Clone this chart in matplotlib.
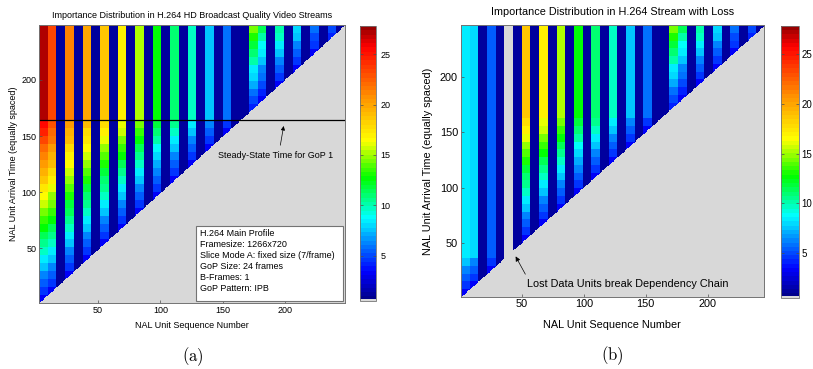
import numpy as np
import matplotlib
matplotlib.use('Agg')
import matplotlib.pyplot as plt
from matplotlib.colors import ListedColormap, LinearSegmentedColormap
from matplotlib.patches import Rectangle

plt.rcParams['font.family'] = ['Liberation Sans', 'DejaVu Sans']
plt.rcParams['mathtext.fontset'] = 'cm'

# 35 frames, 7 slices (NAL units) each -> 245 units; values change once per frame (row block)
slices = 7
frames = 35

# panel (a), GoP 1: value per row block from the diagonal up to the steady-state line
ramp_a = {
    1: [3.5, 4.5, 5.5, 6.5, 7.5, 8.5, 9.5, 10.5, 11.5, 12.5, 13.5, 14.5, 15.5, 16.5, 17.5, 18.5, 19.5, 20.5, 21, 22, 23.5, 24.5, 25.5],
    2: [3.5, 4.5, 5.5, 6.5, 7.5, 8.5, 9.5, 10.5, 11.5, 12.5, 13.5, 14.5, 15, 16, 17, 18, 19, 19.5, 20.5, 21.5, 22, 23],
    4: [3.5, 4.5, 5.5, 6.5, 7.5, 8.5, 9.5, 10.5, 11.5, 12, 13, 14, 15, 15.5, 16.5, 17, 18, 19, 19.5, 20.5],
    6: [3.5, 4.5, 5.5, 6.5, 7.5, 8.5, 9.5, 10.5, 11, 12, 13, 14, 15, 15.5, 16.5, 17.5, 18, 19],
    8: [3.5, 4.5, 5.5, 6.5, 7.5, 8.5, 9.5, 10.5, 11, 12, 13, 14, 15, 16, 17, 18],
    10: [3.5, 4.5, 5.5, 6.5, 7.5, 8.5, 9.5, 10.5, 11.5, 12.5, 13.5, 14.5, 15.5, 16],
    12: [3.5, 4.5, 5.5, 6.5, 7.5, 8.5, 9.5, 10.5, 11.5, 12.5, 13.5, 14.5],
    14: [3.5, 4.5, 5.5, 6.5, 7, 8, 9, 10, 11, 12],
    16: [3.5, 4.5, 5.5, 6.5, 7.5, 8.5, 9.5, 10.5],
    18: [3.5, 4.5, 5.5, 6.5, 7.5, 8.5],
    20: [3.5, 4.5, 5.5, 6.5],
    22: [3.5, 4.5],
}
steady_a = {1: 27, 2: 23.5, 4: 21, 6: 19.8, 8: 18.5, 10: 16.8, 12: 15.1,
            14: 12.7, 16: 11.1, 18: 9.5, 20: 7.6, 22: 5.7}

# GoP 2 (same in both panels): diagonal up to the top row
ramp_gop2 = {
    25: [4, 5, 6, 7, 8, 8.5, 10, 11, 12, 13, 14.4],
    26: [3.5, 4, 5, 6, 6.5, 7.5, 8.5, 9, 10.3, 11.3],
    28: [3.5, 4.5, 5.5, 6.5, 7.5, 8.5, 9.5, 10.3],
    30: [3.5, 4.5, 5.5, 6.5, 7.5, 8.2],
    32: [3.5, 4.5, 5, 5.7],
    34: [4, 5.2],
}

# panel (b): frames before the lost P frame
ramp_b = {
    1: [3.5, 4.5, 5.5, 6.5, 7.5],
    2: [3.5, 4.5, 5.5, 6.5],
    4: [3.5, 4.5],
}
steady_b = {1: 8.4, 2: 7.9, 4: 5.4}
lost_b = [6]

steady_time = 164   # GoP 1 steady state (arrival time)
b_value = 1.0       # B frames / last P frame: nothing depends on them


def block_matrix(ramps, steadies, lost=()):
    B = np.zeros((frames, frames))
    for k in range(1, frames + 1):
        c = k - 1
        if k in lost:
            continue
        vals = ramps.get(k, [])
        fill = steadies.get(k, vals[-1] if (k in ramps and k > 24) else b_value)
        for j in range(c, frames):
            i = j - c
            B[j, c] = vals[i] if i < len(vals) else fill
    U = np.repeat(np.repeat(B, slices, 0), slices, 1)
    n = frames * slices
    U[np.triu(np.ones((n, n)), 1) > 0] = 0   # not yet arrived -> gray
    return U


rampsA = dict(ramp_a)
rampsA.update(ramp_gop2)
matA = block_matrix(rampsA, steady_a)

rampsB = {k: v for k, v in ramp_a.items() if k > 6}
rampsB.update(ramp_b)
rampsB.update(ramp_gop2)
steadyB = {k: v for k, v in steady_a.items() if k > 6}
steadyB.update(steady_b)
matB = block_matrix(rampsB, steadyB, lost_b)

# jet-like map as rendered in the figure, 64 visible levels, light gray at the very bottom
jetlike = LinearSegmentedColormap.from_list('jetlike', [
    (0.0, (0, 0, 0.55)), (0.1, (0, 0, 1)), (0.3, (0, 1, 1)), (0.445, (0, 1, 0)),
    (0.585, (1, 1, 0)), (0.77, (1, 0.5, 0)), (0.93, (1, 0, 0)), (1.0, (0.6, 0, 0))])
lev = jetlike(np.linspace(0, 1, 64))
cols = np.repeat(lev, 4, axis=0)
cols[:2] = [0.85, 0.85, 0.85, 1]
cmap = ListedColormap(cols)
vmin, vmax = 0.54, 27.8

W, H = 813, 369
fig = plt.figure(figsize=(W / 100, H / 100), dpi=100)


def px(x0, y0, x1, y1):
    return [x0 / W, 1 - y1 / H, (x1 - x0) / W, (y1 - y0) / H]


def style(ax, fs):
    for s in ax.spines.values():
        s.set_color('0.45')
        s.set_linewidth(0.7)
    ax.tick_params(direction='in', length=2.5, width=0.5, color='0.3', labelsize=fs, pad=2)


# ---- panel (a)
fsa = 6.5
axa = fig.add_axes(px(39.3, 25.3, 345, 303.3))
im = axa.imshow(matA, origin='lower', extent=[3, 248, 1, 248.7], aspect='auto',
                cmap=cmap, vmin=vmin, vmax=vmax, interpolation='nearest')
axa.set_xlim(3, 248)
axa.set_ylim(1, 248.7)
axa.set_xticks([50, 100, 150, 200])
axa.set_yticks([50, 100, 150, 200])
style(axa, fsa)
axa.axhline(steady_time, color='k', lw=0.9)
axa.annotate('', xy=(199.2, 161.4), xytext=(195.8, 139.4),
             arrowprops=dict(arrowstyle='-|>', color='k', lw=0.5, mutation_scale=6))
axa.text(192.4, 132.5, 'Steady-State Time for GoP 1', ha='center', va='center', fontsize=fsa)
fig.text(192.2 / W, 1 - 15 / H, 'Importance Distribution in H.264 HD Broadcast Quality Video Streams',
         ha='center', va='center', fontsize=fsa)
fig.text(192.2 / W, 1 - 325 / H, 'NAL Unit Sequence Number', ha='center', va='center', fontsize=fsa)
fig.text(13.3 / W, 1 - 164 / H, 'NAL Unit Arrival Time (equally spaced)', ha='center', va='center',
         rotation=90, fontsize=fsa)

fig.patches.append(Rectangle((195.7 / W, 1 - 300.7 / H), 147 / W, 75 / H, transform=fig.transFigure,
                             facecolor='white', edgecolor='0.45', lw=0.8, zorder=5))
box_lines = ['H.264 Main Profile', 'Framesize: 1266x720', 'Slice Mode A: fixed size (7/frame)',
             'GoP Size: 24 frames', 'B-Frames: 1', 'GoP Pattern: IPB']
for i, s in enumerate(box_lines):
    fig.text(200 / W, 1 - (233.3 + 11 * i) / H, s, ha='left', va='center', fontsize=fsa, zorder=6)

caxa = fig.add_axes(px(360, 26, 376, 300.7))
cba = fig.colorbar(im, cax=caxa, ticks=[5, 10, 15, 20, 25])
cba.outline.set_edgecolor('0.45')
cba.outline.set_linewidth(0.6)
caxa.tick_params(direction='in', length=2, width=0.5, color='0.3', left=True, right=True,
                 labelsize=fsa, pad=3)

fig.text(193 / W, 1 - 357 / H, r'$\mathrm{(a)}$', ha='center', va='center', fontsize=12)

# ---- panel (b)
fsb = 7.8
axb = fig.add_axes(px(460.7, 25.3, 764, 296.7))
im2 = axb.imshow(matB, origin='lower', extent=[0.5, 245.5, 0.9, 247.3], aspect='auto',
                 cmap=cmap, vmin=vmin, vmax=vmax, interpolation='nearest')
axb.set_xlim(0.5, 245.5)
axb.set_ylim(0.9, 247.3)
axb.set_xticks([50, 100, 150, 200])
axb.set_yticks([50, 100, 150, 200])
style(axb, fsb)
axb.annotate('', xy=(43.8, 39.7), xytext=(53.8, 19.1),
             arrowprops=dict(arrowstyle='-|>', color='k', lw=0.5, mutation_scale=7))
axb.text(54.3, 12.2, 'Lost Data Units break Dependency Chain', ha='left', va='center', fontsize=fsb)
fig.text(612.3 / W, 1 - 12 / H, 'Importance Distribution in H.264 Stream with Loss',
         ha='center', va='center', fontsize=fsb)
fig.text(612.3 / W, 1 - 325 / H, 'NAL Unit Sequence Number', ha='center', va='center', fontsize=fsb)
fig.text(428.3 / W, 1 - 161 / H, 'NAL Unit Arrival Time (equally spaced)', ha='center', va='center',
         rotation=90, fontsize=fsb)

caxb = fig.add_axes(px(780.7, 26, 799.3, 297.7))
cbb = fig.colorbar(im2, cax=caxb, ticks=[5, 10, 15, 20, 25])
cbb.outline.set_edgecolor('0.45')
cbb.outline.set_linewidth(0.6)
caxb.tick_params(direction='in', length=2, width=0.5, color='0.3', left=True, right=True,
                 labelsize=7, pad=1.5)

fig.text(612.7 / W, 1 - 356 / H, r'$\mathrm{(b)}$', ha='center', va='center', fontsize=12)

fig.savefig('out.png', dpi=100)
